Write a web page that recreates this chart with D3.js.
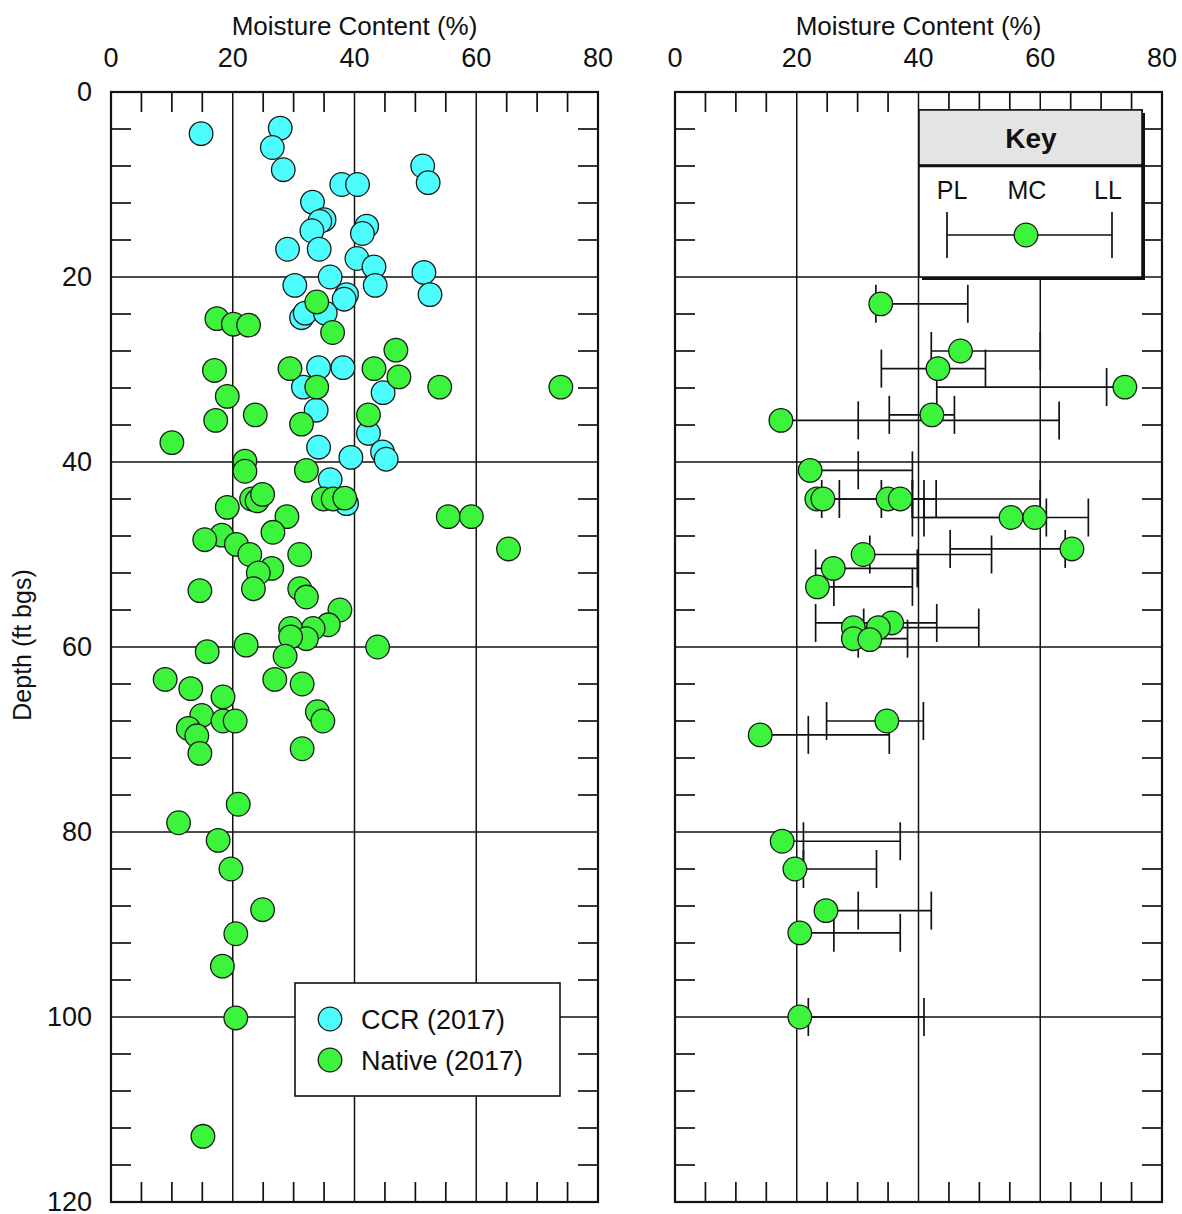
<!DOCTYPE html>
<html>
<head>
<meta charset="utf-8">
<script src="https://cdn.jsdelivr.net/npm/d3@7"></script>
<style>
  body { margin: 0; background: #fff; }
  svg text { font-family: "Liberation Sans", Arial, Helvetica, sans-serif; fill: #111; }
</style>
</head>
<body>
<svg id="chart" width="1182" height="1214"></svg>
<script>
// ---- axis ticks ----
const mcTicks = [0, 20, 40, 60, 80];
const depthTicks = [0, 20, 40, 60, 80, 100, 120];

// ---- CCR (2017): moisture content (%) and depth (ft bgs) ----
const ccrMC = [14.8, 27.8, 26.5, 28.3, 51.2, 52.1, 37.9, 40.5, 33.1, 35.0,
  34.3, 33.0, 42.0, 41.3, 29.0, 34.2, 40.4, 43.2, 51.4, 52.4,
  36.0, 30.2, 43.4, 38.7, 38.3, 31.3, 31.9, 35.2, 34.1, 38.1,
  31.6, 44.7, 33.7, 42.3, 34.1, 44.6, 45.2, 39.4, 36.0, 38.7];
const ccrDepth = [4.5, 3.9, 6.0, 8.4, 8.0, 9.8, 10.0, 10.0, 11.9, 13.8,
  14.0, 15.0, 14.5, 15.3, 17.0, 17.0, 18.0, 18.9, 19.5, 21.9,
  20.0, 20.9, 20.9, 21.9, 22.4, 24.4, 23.9, 23.9, 29.8, 29.8,
  31.9, 32.5, 34.4, 36.9, 38.4, 38.9, 39.7, 39.5, 41.9, 44.5];

// ---- Native (2017): moisture content (%) and depth (ft bgs) ----
const nativeMC = [33.8, 17.4, 20.1, 22.6, 36.4, 46.8, 17.0, 29.4, 43.2, 47.3,
  54.0, 73.9, 19.1, 33.8, 23.7, 17.2, 31.3, 42.3, 10.0, 22.0,
  22.0, 32.1, 34.9, 36.5, 38.4, 23.1, 24.0, 24.9, 19.1, 55.4,
  59.2, 28.9, 26.6, 65.3, 18.2, 15.4, 20.6, 22.8, 31.0, 26.4,
  24.2, 23.4, 14.6, 31.0, 32.1, 37.6, 35.7, 33.2, 29.5, 32.1,
  29.5, 28.6, 43.8, 22.2, 15.8, 8.9, 13.1, 26.9, 31.4, 18.4,
  14.9, 18.4, 20.4, 33.9, 34.8, 12.7, 14.1, 14.6, 31.4, 20.9,
  11.1, 17.6, 19.7, 24.9, 20.5, 18.3, 20.5, 15.1];
const nativeDepth = [22.7, 24.5, 25.1, 25.2, 26.0, 27.9, 30.1, 29.9, 29.9, 30.8,
  31.9, 31.9, 32.9, 31.9, 34.9, 35.5, 35.9, 34.9, 37.9, 39.9,
  41.0, 40.9, 44.0, 44.0, 43.9, 44.0, 44.2, 43.5, 44.9, 45.9,
  45.9, 45.9, 47.6, 49.4, 47.9, 48.4, 48.9, 50.0, 50.0, 51.5,
  52.0, 53.7, 53.9, 53.7, 54.6, 56.0, 57.6, 58.0, 58.0, 59.1,
  58.9, 61.0, 60.0, 59.8, 60.5, 63.5, 64.5, 63.5, 64.0, 65.4,
  67.4, 68.0, 68.0, 67.0, 68.0, 68.8, 69.6, 71.5, 71.0, 77.0,
  79.0, 80.9, 84.0, 88.4, 91.0, 94.5, 100.1, 112.9];

// ---- Atterberg limits: moisture content, depth, plastic limit, liquid limit ----
const limMC = [33.8, 46.9, 43.2, 73.9, 42.2, 17.4, 22.2, 23.3, 24.3, 35.0,
  37.0, 55.2, 59.1, 65.2, 30.9, 26.0, 23.4, 35.6, 33.4, 29.3,
  29.3, 32.0, 34.8, 14.0, 17.6, 19.7, 24.8, 20.5, 20.5];
const limDepth = [22.9, 28.0, 29.9, 31.9, 34.9, 35.5, 40.9, 44.0, 44.0, 44.0,
  44.0, 46.0, 46.0, 49.4, 50.0, 51.5, 53.5, 57.4, 57.9, 57.9,
  59.1, 59.2, 68.0, 69.5, 81.0, 84.0, 88.5, 90.9, 100.0];
const limPL = [33.0, 42.1, 33.9, 43.0, 35.2, 30.1, 30.1, 24.1, 27.0, 33.9,
  39.0, 39.0, 40.9, 45.2, 32.0, 23.1, 26.1, 23.1, 31.0, null,
  30.1, null, 24.9, 21.9, 21.1, 21.1, 30.1, 26.1, 21.9];
const limLL = [48.1, 60.0, 51.0, 70.9, 45.9, 63.1, 39.0, 39.0, 42.9, 40.9,
  60.0, 61.0, 67.9, 64.1, 52.0, 39.8, 39.0, 43.0, 49.9, null,
  38.2, null, 40.8, 35.2, 37.0, 33.1, 42.1, 37.0, 40.9];

const seriesNames = ["CCR (2017)", "Native (2017)"];
const keyLabels = ["PL", "MC", "LL"];
const keyTitle = "Key";
const xTitle = "Moisture Content (%)";
const yTitle = "Depth (ft bgs)";

const COL_CCR = "#4dfcfc";
const COL_NAT = "#3cf43c";
const STROKE = "#1a1a1a";

const svg = d3.select("#chart");
const W = 487, H = 1110, TOP = 92;
const x = d3.scaleLinear().domain([0, 80]).range([0, W]);
const y = d3.scaleLinear().domain([0, 120]).range([0, H]);
const R = 11.8;

const ccr = ccrMC.map((v, i) => ({ mc: v, d: ccrDepth[i] }));
const nat = nativeMC.map((v, i) => ({ mc: v, d: nativeDepth[i] }));
const lim = limMC.map((v, i) => ({ mc: v, d: limDepth[i], pl: limPL[i], ll: limLL[i] }));

function panel(left) {
  const g = svg.append("g").attr("transform", `translate(${left},${TOP})`);
  g.append("rect").attr("width", W).attr("height", H).attr("fill", "#fff");

  // major grid
  g.selectAll(".vgrid").data(mcTicks.slice(1, -1)).join("line")
    .attr("x1", d => x(d)).attr("x2", d => x(d)).attr("y1", 0).attr("y2", H)
    .attr("stroke", "#111").attr("stroke-width", 1.5);
  g.selectAll(".hgrid").data(depthTicks.slice(1, -1)).join("line")
    .attr("x1", 0).attr("x2", W).attr("y1", d => y(d)).attr("y2", d => y(d))
    .attr("stroke", "#111").attr("stroke-width", 1.5);

  // minor inward ticks
  const xm = d3.range(5, 80, 5).filter(v => v % 20 !== 0);
  const ym = d3.range(4, 120, 4).filter(v => v % 20 !== 0);
  const tk = g.append("g").attr("stroke", "#111").attr("stroke-width", 1.7);
  xm.forEach(v => {
    tk.append("line").attr("x1", x(v)).attr("x2", x(v)).attr("y1", 0).attr("y2", 20);
    tk.append("line").attr("x1", x(v)).attr("x2", x(v)).attr("y1", H - 20).attr("y2", H);
  });
  ym.forEach(v => {
    tk.append("line").attr("x1", 0).attr("x2", 20).attr("y1", y(v)).attr("y2", y(v));
    tk.append("line").attr("x1", W - 20).attr("x2", W).attr("y1", y(v)).attr("y2", y(v));
  });

  // top axis labels and title
  g.selectAll(".xlab").data(mcTicks).join("text")
    .attr("x", d => x(d)).attr("y", -25).attr("text-anchor", "middle")
    .attr("font-size", 27).text(d => d);
  g.append("text").attr("x", W / 2).attr("y", -57).attr("text-anchor", "middle")
    .attr("font-size", 26).text(xTitle);
  return g;
}

function frame(g) {
  g.append("rect").attr("width", W).attr("height", H)
    .attr("fill", "none").attr("stroke", "#111").attr("stroke-width", 2.2);
}

// ---------- left panel: moisture content vs depth ----------
const gL = panel(111);
gL.selectAll(".dlab").data(depthTicks).join("text")
  .attr("x", -19).attr("y", d => y(d) + 9).attr("text-anchor", "end")
  .attr("font-size", 27).text(d => d);
svg.append("text").attr("transform", "translate(31,645) rotate(-90)")
  .attr("text-anchor", "middle").attr("font-size", 25).text(yTitle);

gL.append("g").selectAll("circle").data(ccr).join("circle")
  .attr("cx", d => x(d.mc)).attr("cy", d => y(d.d)).attr("r", R)
  .attr("fill", COL_CCR).attr("stroke", STROKE).attr("stroke-width", 1.3);
gL.append("g").selectAll("circle").data(nat).join("circle")
  .attr("cx", d => x(d.mc)).attr("cy", d => y(d.d)).attr("r", R)
  .attr("fill", COL_NAT).attr("stroke", STROKE).attr("stroke-width", 1.3);

// legend
const lg = gL.append("g").attr("transform", "translate(184,891)");
lg.append("rect").attr("width", 265).attr("height", 113)
  .attr("fill", "#fff").attr("stroke", "#111").attr("stroke-width", 1.6);
[COL_CCR, COL_NAT].forEach((c, i) => {
  const yy = 36 + i * 41;
  lg.append("circle").attr("cx", 35).attr("cy", yy).attr("r", R)
    .attr("fill", c).attr("stroke", STROKE).attr("stroke-width", 1.3);
  lg.append("text").attr("x", 66).attr("y", yy + 9.5).attr("font-size", 27)
    .text(seriesNames[i]);
});
frame(gL);

// ---------- right panel: Atterberg limits ----------
const gR = panel(675);
const bars = gR.append("g").attr("stroke", "#111").attr("stroke-width", 1.7);
lim.filter(d => d.pl != null).forEach(d => {
  const lo = Math.min(d.pl, d.mc), hi = Math.max(d.ll, d.mc);
  bars.append("line").attr("x1", x(lo)).attr("x2", x(hi))
    .attr("y1", y(d.d)).attr("y2", y(d.d));
  [d.pl, d.ll].forEach(v => {
    bars.append("line").attr("x1", x(v)).attr("x2", x(v))
      .attr("y1", y(d.d) - 19).attr("y2", y(d.d) + 19);
  });
});
gR.append("g").selectAll("circle").data(lim).join("circle")
  .attr("cx", d => x(d.mc)).attr("cy", d => y(d.d)).attr("r", R)
  .attr("fill", COL_NAT).attr("stroke", STROKE).attr("stroke-width", 1.3);

// key box with drop shadow
const kg = gR.append("g").attr("transform", "translate(244,18)");
const kw = 223, kh = 167;
kg.append("rect").attr("x", 3).attr("y", 3).attr("width", kw).attr("height", kh).attr("fill", "#111");
kg.append("rect").attr("width", kw).attr("height", kh).attr("fill", "#fff")
  .attr("stroke", "#111").attr("stroke-width", 1.5);
kg.append("rect").attr("width", kw).attr("height", 55).attr("fill", "#e4e4e4")
  .attr("stroke", "#111").attr("stroke-width", 1.5);
kg.append("line").attr("x1", 0).attr("x2", kw + 2).attr("y1", 56).attr("y2", 56)
  .attr("stroke", "#111").attr("stroke-width", 2.5);
kg.append("text").attr("x", 112).attr("y", 38).attr("text-anchor", "middle")
  .attr("font-size", 28).attr("font-weight", "bold").text(keyTitle);
const kx = [33, 108, 189];
keyLabels.forEach((t, i) => {
  kg.append("text").attr("x", kx[i]).attr("y", 89).attr("text-anchor", "middle")
    .attr("font-size", 25).text(t);
});
kg.append("line").attr("x1", 28).attr("x2", 193).attr("y1", 125).attr("y2", 125)
  .attr("stroke", "#111").attr("stroke-width", 1.7);
[28, 193].forEach(v => kg.append("line").attr("x1", v).attr("x2", v)
  .attr("y1", 102).attr("y2", 148).attr("stroke", "#111").attr("stroke-width", 1.7));
kg.append("circle").attr("cx", 107).attr("cy", 125).attr("r", R)
  .attr("fill", COL_NAT).attr("stroke", STROKE).attr("stroke-width", 1.3);
frame(gR);
</script>
</body>
</html>
